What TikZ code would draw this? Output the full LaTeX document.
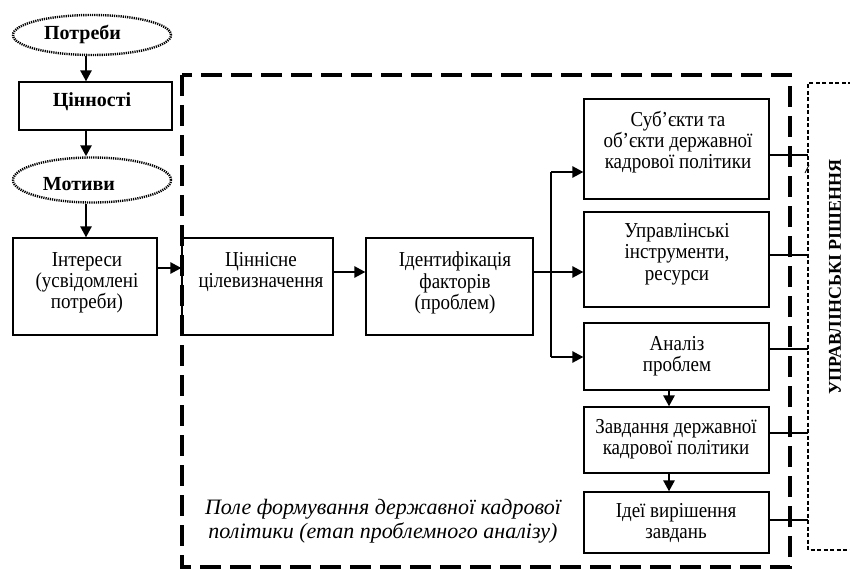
\documentclass[tikz,border=0pt]{standalone}
\usepackage{fontspec}
\setmainfont{Liberation Serif}
\usetikzlibrary{arrows.meta,shapes.geometric}
\begin{document}
\begin{tikzpicture}[x=1pt,y=-1pt,
 box/.style={draw, line width=1.2pt, rectangle, inner sep=0},
 txt/.style={align=center, font=\fontsize{19}{19}\selectfont, inner sep=0, yscale=1.12},
 btxt/.style={align=center, font=\fontsize{20}{21}\selectfont\bfseries, inner sep=0},
 itxt/.style={align=center, font=\fontsize{22}{24}\selectfont\itshape, inner sep=0},
 oval/.style={draw, ellipse, line width=2.4pt, dash pattern=on 1.2pt off 1pt, inner sep=0},
 arr/.style={line width=2.5pt, -{Triangle[length=11pt,width=11pt]}},
 thinline/.style={line width=1.2pt},
 bigdash/.style={line width=3.3pt, dash pattern=on 21pt off 9pt},
 smalldash/.style={line width=1.3pt, dash pattern=on 4pt off 2.5pt}]
\useasboundingbox (0,0) rectangle (850,569);
% frames
\draw[bigdash] (182,75) rectangle (790,567);
\coordinate (dl) at (808,0);
\draw[smalldash] (852,83) -- (808,83) -- (808,550) -- (852,550);
\draw[line width=0.8pt] (805,173) -- (809,165);
% left column
\coordinate (colx) at (86,0);
\node[oval, minimum width=158pt, minimum height=40pt] (potr) at (92,35) {};
\path (82.5,34) node[btxt] (potrt) {Потреби};
\node[box, minimum width=153pt, minimum height=48pt] (cin) at (95.5,106) {};
\path (92,102) node[btxt] (cint) {Цінності};
\node[oval, minimum width=158pt, minimum height=45pt] (mot) at (92,180) {};
\path (79,184) node[btxt] (mott) {Мотиви};
\node[box, minimum width=144pt, minimum height=97pt] (int) at (85,286.5) {};
\path (87,283) node[txt] (intt) {Інтереси\\(усвідомлені\\потреби)};
\draw[arr] (potr.south -| colx) -- (cin.north -| colx);
\draw[arr] (cin.south -| colx) -- (mot.north -| colx);
\draw[arr] (mot.south -| colx) -- (int.north -| colx);
% middle row
\node[box, minimum width=151pt, minimum height=97pt] (cil) at (257.5,286.5) {};
\path (261,272) node[txt] (cilt) {Ціннісне\\цілевизначення};
\node[box, minimum width=167pt, minimum height=97pt] (ide) at (449.5,286.5) {};
\path (455,283) node[txt] (idet) {Ідентифікація\\факторів\\(проблем)};
\coordinate (r1) at (0,268);
\coordinate (r2) at (0,272);
\draw[arr] (int.east |- r1) -- (cil.west |- r1);
\draw[arr] (cil.east |- r2) -- (ide.west |- r2);
% right column
\node[box, minimum width=185pt, minimum height=100pt] (sub) at (676.5,149) {};
\path (678,142) node[txt] (subt) {Суб’єкти та\\об’єкти державної\\кадрової політики};
\node[box, minimum width=185pt, minimum height=95pt] (upr) at (676.5,259.5) {};
\path (677,254) node[txt] (uprt) {Управлінські\\інструменти,\\ресурси};
\node[box, minimum width=185pt, minimum height=67pt] (an) at (676.5,356.5) {};
\path (677,356) node[txt] (ant) {Аналіз\\проблем};
\node[box, minimum width=185pt, minimum height=66pt] (zav) at (676.5,440) {};
\path (676,439) node[txt] (zavt) {Завдання державної\\кадрової політики};
\node[box, minimum width=185pt, minimum height=61pt] (ide2) at (676.5,522.5) {};
\path (676,523) node[txt] (ide2t) {Ідеї вирішення\\завдань};
% trunk
\coordinate (tr) at (551,0);
\coordinate (t1) at (0,172);
\coordinate (t3) at (0,357);
\draw[thinline] (ide.east |- r2) -- (tr |- r2);
\draw[thinline] (tr |- t1) -- (tr |- t3);
\draw[arr] (tr |- t1) -- (sub.west |- t1);
\draw[arr] (tr |- r2) -- (upr.west |- r2);
\draw[arr] (tr |- t3) -- (an.west |- t3);
\coordinate (colr) at (669,0);
\draw[arr] (an.south -| colr) -- (zav.north -| colr);
\draw[arr] (zav.south -| colr) -- (ide2.north -| colr);
% links to decisions
\coordinate (k1) at (0,155);
\coordinate (k2) at (0,255);
\coordinate (k3) at (0,349);
\coordinate (k4) at (0,433);
\coordinate (k5) at (0,520);
\draw[thinline] (sub.east |- k1) -- (dl |- k1);
\draw[thinline] (upr.east |- k2) -- (dl |- k2);
\draw[thinline] (an.east |- k3) -- (dl |- k3);
\draw[thinline] (zav.east |- k4) -- (dl |- k4);
\draw[thinline] (ide2.east |- k5) -- (dl |- k5);
% labels
\path (383,521) node[itxt] (field) {Поле формування державної кадрової\\політики (етап проблемного аналізу)};
\path (835,277) node[btxt, rotate=90, font=\fontsize{18}{20}\selectfont\bfseries] (dec) {УПРАВЛІНСЬКІ РІШЕННЯ};
\end{tikzpicture}
\end{document}
